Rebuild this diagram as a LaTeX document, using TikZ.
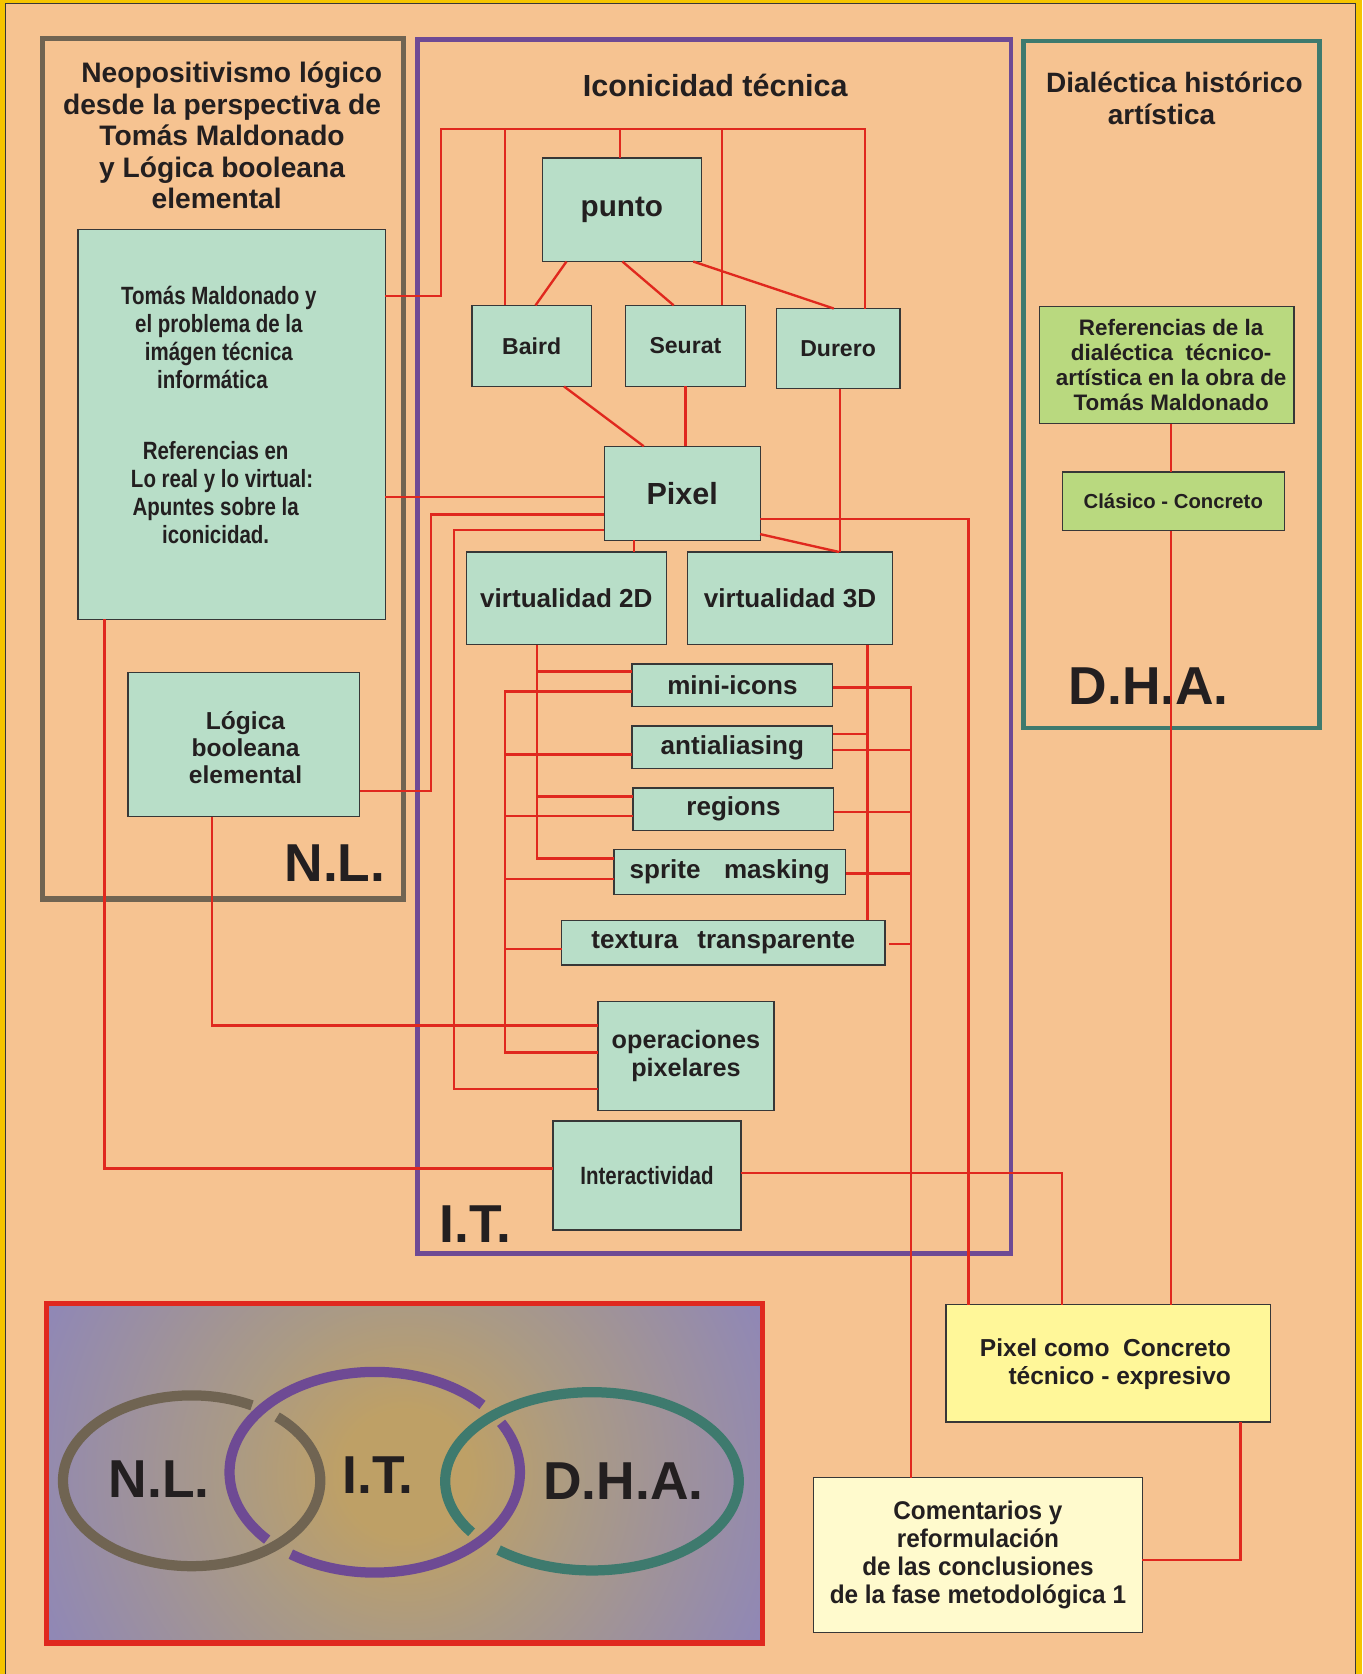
\documentclass[tikz,border=0pt]{standalone}
\usepackage{fontspec}
\setmainfont{Liberation Sans}
\newfontfamily\narrowfont{Liberation Sans}[FakeStretch=0.82]
\newfontfamily\semifont{Liberation Sans}[FakeStretch=0.95]
\definecolor{peach}{RGB}{246,195,145}
\definecolor{byellow}{RGB}{245,196,0}
\definecolor{mint}{RGB}{184,222,200}
\definecolor{lgreen}{RGB}{185,217,127}
\definecolor{pyellow}{RGB}{255,247,153}
\definecolor{lyellow}{RGB}{255,250,205}
\definecolor{boxline}{RGB}{55,55,55}
\definecolor{cred}{RGB}{224,40,30}
\definecolor{nlcol}{RGB}{112,100,82}
\definecolor{itcol}{RGB}{110,74,148}
\definecolor{dhacol}{RGB}{62,122,110}
\definecolor{textdark}{RGB}{35,31,32}
\definecolor{vgold}{RGB}{190,160,102}
\definecolor{vtan}{RGB}{170,154,133}
\definecolor{vlav}{RGB}{143,135,183}
\pgfdeclareradialshading{vennshade}{\pgfpoint{0bp}{0bp}}{color(0bp)=(vgold);color(4bp)=(vgold);color(11bp)=(vtan);color(25bp)=(vlav);color(50bp)=(vlav)}
\begin{document}
\begin{tikzpicture}[x=0.5pt,y=-0.5pt,
  box/.style={draw=boxline, line width=0.6pt, fill=mint, inner sep=0pt, outer sep=0pt, align=center, text=textdark, font=\bfseries},
  rect/.style n args={4}{at={({(#1+#3)/2},{(#2+#4)/2})}, minimum width={(#3-#1)*0.5pt}, minimum height={(#4-#2)*0.5pt}},
  conn/.style={draw=cred, line width=1.1pt},
  txt/.style={inner sep=0pt, outer sep=0pt, align=center, text=textdark},
  big/.style={inner sep=0pt, outer sep=0pt, text=textdark, font=\fontsize{25}{28}\selectfont\bfseries},
  ring/.style={line width=4.8pt}
]
\useasboundingbox (0,0) rectangle (1276,1568);
\fill[byellow] (0,0) rectangle (1276,1568);
\fill[peach] (4.7,3) rectangle (1270,1568);
\draw[boxline, line width=0.4pt] (4.7,1568) -- (4.7,3) -- (1270,3) -- (1270,1568);

% frames
\draw[nlcol, line width=2.5pt] (39.5,36) rectangle (378,842);
\draw[itcol, line width=2pt] (391,37) rectangle (947,1174);
\draw[dhacol, line width=2.2pt] (959,38.5) rectangle (1236,682);

% titles
\node[txt, font=\fontsize{13.2}{14.75}\selectfont\bfseries] (nltitle) at (208,127)
  {\hspace*{9pt}Neopositivismo lógico\\desde la perspectiva de\\Tomás Maldonado\\y Lógica booleana\\elemental\hspace*{5pt}};
\node[txt, font=\fontsize{14.3}{16}\selectfont\bfseries] (ittitle) at (670,80) {Iconicidad técnica};
\node[txt, font=\fontsize{13.1}{15}\selectfont\bfseries] (dhatitle) at (1100,92) {Dialéctica histórico\\artística\hspace*{12pt}};

% big labels
\node[big, anchor=base east] (nllabel) at (361,826) {N.L.};
\node[big, anchor=base west] (itlabel) at (412,1164) {I.T.};
\node[big, anchor=base west] (dhalabel) at (1001,660) {D.H.A.};

% named bus coordinates
\coordinate (bus) at (413,121);
\coordinate (busR) at (810,121);
\coordinate (bA) at (503,604);
\coordinate (bB) at (473,647.7);
\coordinate (bC) at (812.7,604);
\coordinate (bD) at (853.5,644);

% boxes
\node[box, rect={73}{215}{361}{580}] (tm) {};
\node[box, rect={120}{630}{337}{765}] (logica) {};
\node[box, rect={508}{148}{657}{245}, font=\fontsize{13.9}{16}\selectfont\bfseries] (punto) {punto};
\node[box, rect={442}{286}{554}{362}, font=\fontsize{10.8}{12}\selectfont\bfseries] (baird) {Baird};
\node[box, rect={586}{286}{698}{362}, font=\fontsize{10.8}{12}\selectfont\bfseries] (seurat) {Seurat};
\node[box, rect={727}{289}{843}{364}, font=\fontsize{10.8}{12}\selectfont\bfseries] (durero) {Durero};
\node[box, rect={566}{418}{712}{506}, font=\fontsize{14.3}{16}\selectfont\bfseries] (pixel) {Pixel};
\node[box, rect={437}{517}{624}{604}, font=\fontsize{12.2}{14}\selectfont\bfseries] (v2d) {virtualidad 2D};
\node[box, rect={644}{517}{836}{604}, font=\fontsize{12.2}{14}\selectfont\bfseries] (v3d) {virtualidad 3D};
\node[box, rect={592}{622}{780}{662}, font=\fontsize{12.2}{14}\selectfont\bfseries] (mini) {mini-icons};
\node[box, rect={592}{680}{780}{720}, font=\fontsize{12.2}{14}\selectfont\bfseries] (anti) {antialiasing};
\node[box, rect={593}{738}{781}{778}, font=\fontsize{12.2}{14}\selectfont\bfseries] (regions) {regions};
\node[box, rect={575}{796}{792}{838}, font=\fontsize{12.2}{14}\selectfont\bfseries] (sprite) {sprite\hspace{11pt}masking};
\node[box, rect={526}{862}{829}{904}, font=\fontsize{12.2}{14}\selectfont\bfseries] (textura) {textura\hspace{9pt}transparente};
\node[box, rect={560}{938}{725}{1040}, font=\fontsize{11.8}{13}\selectfont\bfseries] (oper) {operaciones\\pixelares};
\node[box, rect={518}{1050}{694}{1152}, font=\narrowfont\fontsize{11.7}{13}\selectfont\bfseries] (inter) {Interactividad};
\node[box, fill=lgreen, rect={974}{287}{1212}{397}] (refdia) {};
\node[box, fill=lgreen, rect={995}{442}{1203}{497}, font=\fontsize{9.5}{11}\selectfont\bfseries] (clasico) {Clásico - Concreto};
\node[box, fill=pyellow, rect={886}{1222}{1190}{1332}] (pcomo) {};
\node[box, fill=lyellow, rect={762}{1384}{1070}{1529}, font=\semifont\fontsize{12}{13}\selectfont\bfseries] (coment) {Comentarios y\\reformulación\\de las conclusiones\\de la fase metodológica 1};

% connectors
\draw[conn] (tm.east |- 0,277) -| (bus) -- (busR) -- (durero.north -| busR);
\draw[conn] (baird.north -| 473,0) -- (bus -| 473,0);
\draw[conn] (punto.north -| 581,0) -- (bus -| 581,0);
\draw[conn] (seurat.north -| 676.5,0) -- (bus -| 676.5,0);
\draw[conn] (punto.south -| 530.6,0) -- (baird.north -| 501.6,0);
\draw[conn] (punto.south -| 583,0) -- (seurat.north -| 631,0);
\draw[conn] (punto.south -| 649.4,0) -- (durero.north -| 781,0);
\draw[conn] (baird.south -| 528.3,0) -- (pixel.north -| 603,0);
\draw[conn] (seurat.south -| 642,0) -- (pixel.north -| 642,0);
\draw[conn] (durero.south -| 786.6,0) -- (v3d.north -| 786.6,0);
\draw[conn] (pixel.east |- 0,500.3) -- (v3d.north -| 785.9,0);
\draw[conn] (pixel.east |- 0,486) -| (pcomo.north -| 907,0);
\draw[conn] (tm.east |- 0,465.3) -- (pixel.west |- 0,465.3);
\draw[conn] (logica.east |- 0,741) -| (404,482) -- (pixel.west |- 0,482);
\draw[conn] (pixel.west |- 0,496.5) -| (425.5,1020) -- (oper.west |- 0,1020);
\draw[conn] (pixel.south -| 593.6,0) -- (v2d.north -| 593.6,0);
% v2d bus
\draw[conn] (bA) |- (sprite.west |- 0,804);
\draw[conn] (bA |- 0,629) -- (mini.west |- 0,629);
\draw[conn] (bA |- 0,746) -- (regions.west |- 0,746);
% operaciones bus
\draw[conn] (mini.west |- bB) -| (bB |- 0,986) -- (oper.west |- 0,986);
\draw[conn] (bB |- 0,706.7) -- (anti.west |- 0,706.7);
\draw[conn] (bB |- 0,764.5) -- (regions.west |- 0,764.5);
\draw[conn] (bB |- 0,823.2) -- (sprite.west |- 0,823.2);
\draw[conn] (bB |- 0,889.1) -- (textura.west |- 0,889.1);
% logica, tm lower
\draw[conn] (logica.south -| 198.7,0) |- (oper.west |- 0,960.6);
\draw[conn] (tm.south -| 97.9,0) |- (inter.west |- 0,1094.5);
% v3d bus
\draw[conn] (bC) -- (textura.north -| bC);
\draw[conn] (anti.east |- 0,687.7) -- (bC |- 0,687.7);
% right bus to comentarios
\draw[conn] (mini.east |- bD) -| (coment.north -| bD);
\draw[conn] (anti.east |- 0,702.6) -- (bD |- 0,702.6);
\draw[conn] (regions.east |- 0,760.4) -- (bD |- 0,760.4);
\draw[conn] (sprite.east |- 0,818.2) -- (bD |- 0,818.2);
\draw[conn] ([xshift=2pt]textura.east |- 0,884.1) -- (bD |- 0,884.1);
% interactividad to pixel como
\draw[conn] (inter.east |- 0,1098.5) -| (pcomo.north -| 995,0);
% DHA chain
\draw[conn] (refdia.south -| 1097,0) -- (clasico.north -| 1097,0);
\draw[conn] (clasico.south -| 1097,0) -- (pcomo.north -| 1097,0);
\draw[conn] (pcomo.south -| 1162,0) |- (coment.east |- 0,1461.5);

% texts for offset boxes
\node[txt, font=\narrowfont\fontsize{11.7}{13}\selectfont\bfseries] (tm1) at (205,316)
  {Tomás Maldonado y\\el problema de la\\imágen técnica\\informática\hspace*{6pt}};
\node[txt, font=\narrowfont\fontsize{11.7}{13}\selectfont\bfseries] (tm2) at (202,461.5)
  {Referencias en\\\hspace*{6pt}Lo real y lo virtual:\\Apuntes sobre la\\iconicidad.};
\node[txt, font=\fontsize{11.5}{12.75}\selectfont\bfseries] (logicatext) at (230,700.5)
  {Lógica\\booleana\\elemental};
\node[txt, font=\fontsize{10.5}{11.75}\selectfont\bfseries] (refdiatext) at (1097,342)
  {Referencias de la\\dialéctica\ \ técnico-\\artística en la obra de\\Tomás Maldonado};
\node[txt, anchor=east, align=right, font=\fontsize{11.5}{13}\selectfont\bfseries] (pcomotext) at (1153,1278)
  {Pixel como\ \ Concreto\\técnico - expresivo};

% Venn panel
\begin{scope}
\clip (43.5,1221) rectangle (714.5,1539);
\shade[shading=vennshade] (8,1009) rectangle (750,1751);
\end{scope}
\draw[cred, line width=2.5pt] (43.5,1221) rectangle (714.5,1539);

\draw[ring, nlcol] plot[domain=-48.4:298, samples=160] ({179.5+120.5*cos(\x)},{1387+80*sin(\x)});
\draw[ring, itcol] plot[domain=-29.5:125.3, samples=120] ({351+136*cos(\x)},{1379+94*sin(\x)});
\draw[ring, itcol] plot[domain=137.8:317.9, samples=140] ({351+136*cos(\x)},{1379+94*sin(\x)});
\draw[ring, dhacol] plot[domain=145.1:489.5, samples=200] ({554.5+137.5*cos(\x)},{1387.5+83.5*sin(\x)});

\node[big, anchor=base] (vnl) at (149,1403) {N.L.};
\node[big, anchor=base] (vit) at (354,1399) {I.T.};
\node[big, anchor=base] (vdha) at (584,1404.5) {D.H.A.};
\end{tikzpicture}
\end{document}
